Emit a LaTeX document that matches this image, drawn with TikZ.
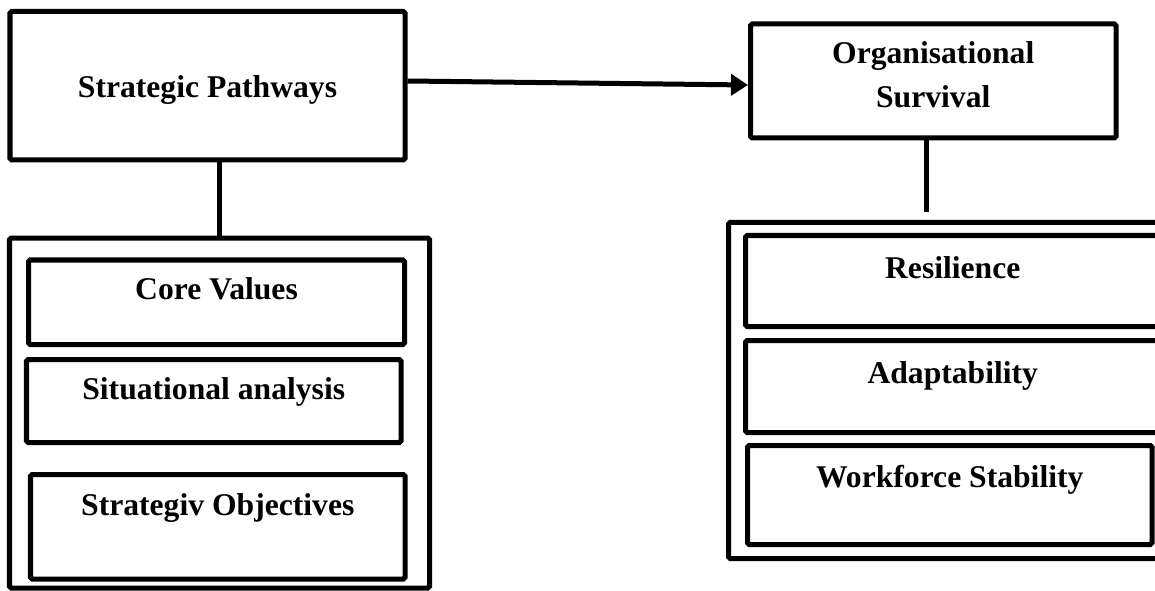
\documentclass[tikz,border=0pt]{standalone}
\usepackage{fontspec}
\setmainfont{Liberation Serif}
\usetikzlibrary{arrows.meta}

\begin{document}
\begin{tikzpicture}[
  font=\fontsize{18}{24.5}\selectfont\bfseries,
  mainbox/.style = {draw, line width=0.1cm, rounded corners=1pt, inner sep=0pt, align=center},
  groupbox/.style = {draw, line width=0.1cm, rounded corners=1pt, inner sep=0pt},
  itembox/.style = {draw, line width=0.1cm, rounded corners=1pt, inner sep=0pt},
  link/.style = {line width=0.1cm},
  flow/.style = {line width=0.1cm, -{Triangle[length=0.34cm, width=0.42cm]}},
]

% ---- canvas ----------------------------------------------------------------
\useasboundingbox (0,0) rectangle (23.1,11.8);
\clip (0,0) rectangle (23.1,11.8);

% ---- top row ---------------------------------------------------------------
\node[mainbox, minimum width=7.90cm, minimum height=2.97cm,
      text height=1.73cm, text depth=1.24cm] (sp) at (4.15, 10.085)
  {Strategic Pathways};
\node[mainbox, minimum width=7.31cm, minimum height=2.28cm] (org) at (18.665, 10.18)
  {Organisational\\Survival\strut};

% ---- groups ----------------------------------------------------------------
\node[groupbox, minimum width=8.40cm, minimum height=7.00cm] (lbox) at (4.39, 3.54) {};
\node[groupbox, minimum width=8.83cm, minimum height=6.72cm] (rbox) at (18.985, 3.99) {};

% ---- left items ------------------------------------------------------------
\node[itembox, minimum width=7.52cm, minimum height=1.69cm,
      text height=0.78cm, text depth=0.91cm] (cv) at (4.33, 5.755) {Core Values};
\node[itembox, minimum width=7.49cm, minimum height=1.66cm,
      text height=0.79cm, text depth=0.87cm] (sa) at (4.275, 3.78) {Situational analysis};
\node[itembox, minimum width=7.49cm, minimum height=2.09cm,
      text height=0.81cm, text depth=1.28cm] (so) at (4.355, 1.265) {Strategiv Objectives};

% ---- right items -----------------------------------------------------------
\node[itembox, minimum width=8.29cm, minimum height=1.82cm,
      text height=0.85cm, text depth=0.97cm] (res) at (19.055, 6.18) {Resilience};
\node[itembox, minimum width=8.29cm, minimum height=1.84cm,
      text height=0.85cm, text depth=0.99cm] (ada) at (19.055, 4.07) {Adaptability};
\node[itembox, minimum width=8.09cm, minimum height=1.98cm,
      text height=0.83cm, text depth=1.15cm] (wf) at (18.995, 1.90) {Workforce Stability};

% ---- connectors ------------------------------------------------------------
\draw[flow] ([yshift=0.095cm]sp.east) -- ([yshift=-0.08cm]org.west);
\draw[link] (lbox.north) -- (lbox.north |- sp.south);
\draw[link, shorten >=0.15cm] ([xshift=-0.145cm]org.south)
  -- ([xshift=-0.145cm]org.south |- rbox.north);

\end{tikzpicture}
\end{document}
